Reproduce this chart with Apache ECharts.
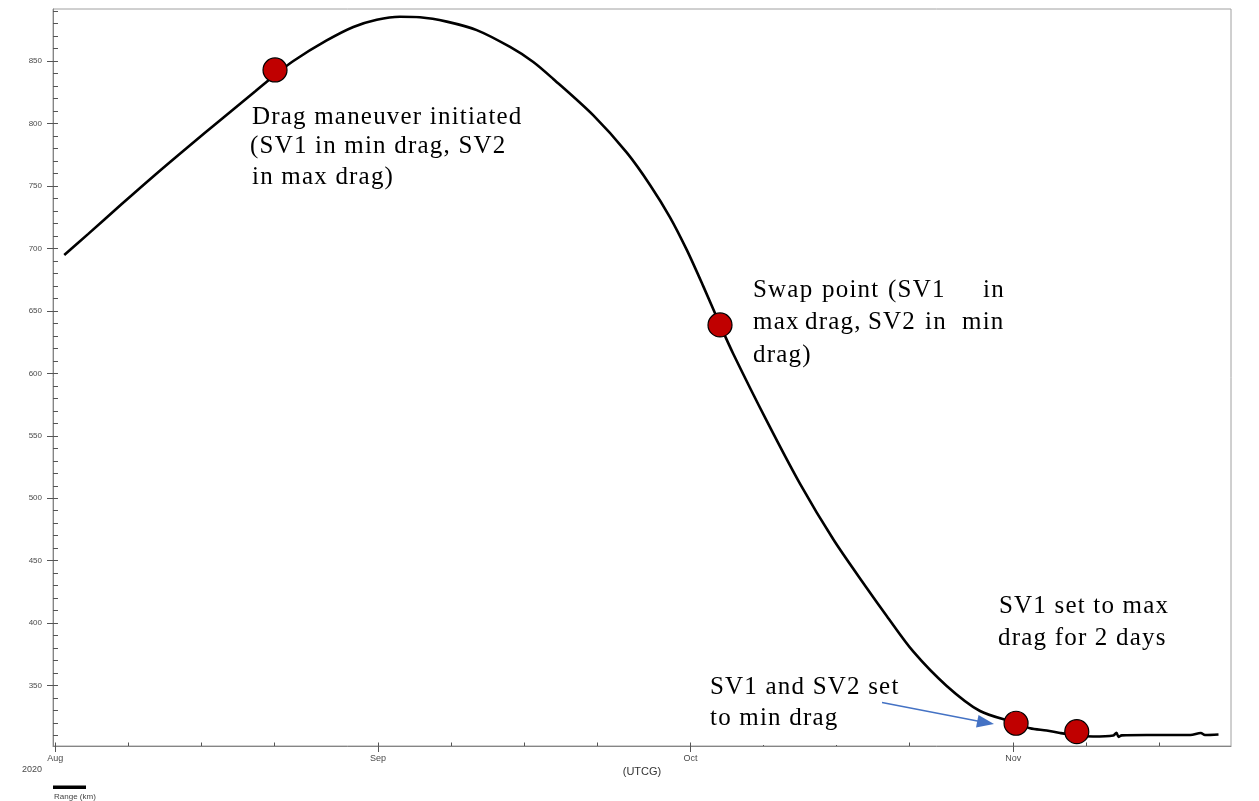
<!DOCTYPE html>
<html>
<head>
<meta charset="utf-8">
<script src="https://cdn.jsdelivr.net/npm/echarts@6/dist/echarts.min.js"></script>
<style>
html,body{margin:0;padding:0;background:#fff;}
#chart{width:1259px;height:801px;}
</style>
</head>
<body>
<div id="chart"></div>
<script>
// ---- data (days since 2020-08-01 00:00 UTCG, range in km) ----
const startDate = '2020-08-01';
const dayOffsets = [0.86, 3.17, 6.38, 9.57, 12.77, 15.98, 19.18, 21.1, 22.86, 26.06, 28.62, 30.87, 33.1, 35.02, 37.59, 40.47, 43.67, 45.9, 47.82, 51.67, 54.88, 57.11, 59.03, 60.64, 62.23, 63.83, 65.11, 68.32, 71.52, 74.72, 77.92, 79.84, 82.4, 85.6, 88.8, 92.26, 93.6, 95.2, 96.48, 98.09, 99.65, 101.6, 101.9, 102.1, 102.4, 104.8, 109.0, 110.0, 110.4, 111.7];
const rangeKm   = [694.7, 711.6, 735.5, 758.8, 781.4, 803.6, 825.6, 838.8, 850.0, 866.4, 877.2, 883.0, 885.4, 885.0, 881.5, 874.7, 861.2, 849.2, 835.6, 806.4, 776.6, 750.8, 724.9, 698.8, 669.6, 638.9, 615.5, 561.9, 511.5, 467.0, 428.2, 405.8, 377.2, 349.8, 329.7, 320.1, 315.9, 314.1, 312.1, 310.1, 309.3, 310.1, 312.3, 309.0, 310.2, 310.5, 310.5, 312.1, 310.5, 310.9];

// event markers
const markerDays  = [21.1, 63.83, 92.26, 98.09];
const markerRange = [842.8, 638.7, 319.9, 313.2];

// axis ticks
const monthTickDates = ['2020-08-01', '2020-09-01', '2020-10-01', '2020-11-01'];
const monthLabels = ['Aug', 'Sep', 'Oct', 'Nov'];
const minorTickDays = [1, 8, 15, 22];
const minorTickMonths = [7, 8, 9, 10]; // Aug..Nov (0-based)
const yMajorTicks = [350, 400, 450, 500, 550, 600, 650, 700, 750, 800, 850];
const yMinorStep = 10;

// annotation text
const annDrag = ['Drag maneuver initiated', '(SV1 in min drag, SV2', 'in max drag)'];
const annSwap1 = ['Swap', 'point', '(SV1', 'in'];
const annSwap2 = ['max', 'drag,', 'SV2', 'in', 'min'];
const annSwap3 = ['drag)'];
const annMax  = ['SV1 set to max', 'drag for 2 days'];
const annMin  = ['SV1 and SV2 set', 'to min drag'];

// ---- build ----
// annotation text in the reference is slightly letter-spaced
(function () {
  const proto = CanvasRenderingContext2D.prototype;
  const orig = proto.fillText;
  proto.fillText = function (t, x, y, m) {
    if ('letterSpacing' in this) this.letterSpacing = this.font.indexOf('Serif') >= 0 ? '1.2px' : '0px';
    return m === undefined ? orig.call(this, t, x, y) : orig.call(this, t, x, y, m);
  };
})();

const DAY = 86400000;
const base = Date.parse(startDate + 'T00:00:00Z');
const toTs = d => base + d * DAY;
const lineData = dayOffsets.map((d, i) => [toTs(d), rangeKm[i]]);
const markerData = markerDays.map((d, i) => [toTs(d), markerRange[i]]);
const monthTicks = monthTickDates.map(s => Date.parse(s + 'T00:00:00Z'));
const minorTicks = [];
minorTickMonths.forEach(m => minorTickDays.forEach(d => minorTicks.push(Date.UTC(2020, m, d))));
const yMinorTicks = [];
for (let v = 310; v <= 890; v += yMinorStep) yMinorTicks.push(v);

const xMin = toTs(-0.22), xMax = toTs(112.9);
const yMin = 301.7, yMax = 891.6;

const serif = '25px "Liberation Serif", "Times New Roman", serif';
function txt(t, x, y) {
  return { type: 'text', z: 100, style: { text: t, x: x, y: y, font: serif, fill: '#000', textVerticalAlign: 'middle' } };
}
function textLines(lines, xs, ys) { return lines.map((t, i) => txt(t, xs[i], ys[i])); }

const chart = echarts.init(document.getElementById('chart'));
const axisGray = '#858585';
const labelGray = '#4a4a4a';
chart.setOption({
  animation: false,
  grid: { left: 53, right: 28, top: 9, bottom: 55, show: true, borderColor: '#a0a0a0', borderWidth: 1 },
  xAxis: [
    {
      type: 'value', min: xMin, max: xMax, position: 'bottom',
      axisLine: { lineStyle: { color: axisGray, width: 1 } },
      axisTick: { show: true, inside: false, length: 6, customValues: monthTicks, lineStyle: { color: '#555' } },
      axisLabel: {
        customValues: monthTicks, margin: 8, color: labelGray, fontSize: 9, fontFamily: 'Liberation Sans, Arial, sans-serif',
        formatter: v => monthLabels[monthTicks.indexOf(v)] || ''
      },
      splitLine: { show: false }
    },
    {
      type: 'value', min: xMin, max: xMax, position: 'bottom',
      axisLine: { show: false },
      axisTick: { show: true, inside: true, length: 3.5, customValues: minorTicks, lineStyle: { color: '#555' } },
      axisLabel: { show: false },
      splitLine: { show: false }
    }
  ],
  yAxis: [
    {
      type: 'value', min: yMin, max: yMax, position: 'left',
      axisLine: { show: true, lineStyle: { color: axisGray, width: 1 } },
      axisTick: { show: true, inside: false, length: 6, customValues: yMajorTicks, lineStyle: { color: '#555' } },
      axisLabel: { customValues: yMajorTicks, margin: 11, color: labelGray, fontSize: 8, fontFamily: 'Liberation Sans, Arial, sans-serif' },
      splitLine: { show: false }
    },
    {
      type: 'value', min: yMin, max: yMax, position: 'left',
      axisLine: { show: false },
      axisTick: { show: true, inside: true, length: 5, customValues: yMinorTicks, lineStyle: { color: '#555' } },
      axisLabel: { show: false },
      splitLine: { show: false }
    }
  ],
  series: [
    {
      type: 'line', data: lineData, showSymbol: false, smooth: 0.3,
      lineStyle: { color: '#000', width: 2.6 }, z: 3
    },
    {
      type: 'scatter', data: markerData, symbol: 'circle', symbolSize: 24,
      itemStyle: { color: '#c00000', borderColor: '#000', borderWidth: 1.2, opacity: 1 }, z: 5
    }
  ],
  graphic: [].concat(
    textLines(annDrag, [252, 250, 252], [117, 146, 177]),
    textLines(annSwap1, [753, 822, 888, 983], [290, 290, 290, 290]),
    textLines(annSwap2, [753, 805, 868, 925, 962], [322, 322, 322, 322, 322]),
    textLines(annSwap3, [753], [355]),
    textLines(annMax, [999, 998], [606, 638]),
    textLines(annMin, [710, 710], [687, 718]),
    [
      // clip strip hiding bottom of "to min drag" as in the reference
      { type: 'rect', z: 101, shape: { x: 700, y: 733, width: 170, height: 12 }, style: { fill: '#fff' } },
      // arrow
      { type: 'line', z: 102, shape: { x1: 882, y1: 702.5, x2: 980, y2: 721.5 }, style: { stroke: '#4472c4', lineWidth: 1.3 } },
      { type: 'polygon', z: 102, shape: { points: [[994, 724], [976, 727.5], [978.5, 715]] }, style: { fill: '#4472c4' } },
      // footer texts
      { type: 'text', style: { text: '2020', x: 22, y: 770, font: '9px "Liberation Sans", Arial, sans-serif', fill: labelGray, textVerticalAlign: 'middle' } },
      { type: 'text', style: { text: '(UTCG)', x: 642, y: 772, font: '11px "Liberation Sans", Arial, sans-serif', fill: '#333', textAlign: 'center', textVerticalAlign: 'middle' } },
      { type: 'rect', shape: { x: 53, y: 785.5, width: 33, height: 3.5 }, style: { fill: '#000' } },
      { type: 'text', style: { text: 'Range (km)', x: 54, y: 793, font: '8px "Liberation Sans", Arial, sans-serif', fill: '#444', textVerticalAlign: 'top' } }
    ]
  )
});
</script>
</body>
</html>
